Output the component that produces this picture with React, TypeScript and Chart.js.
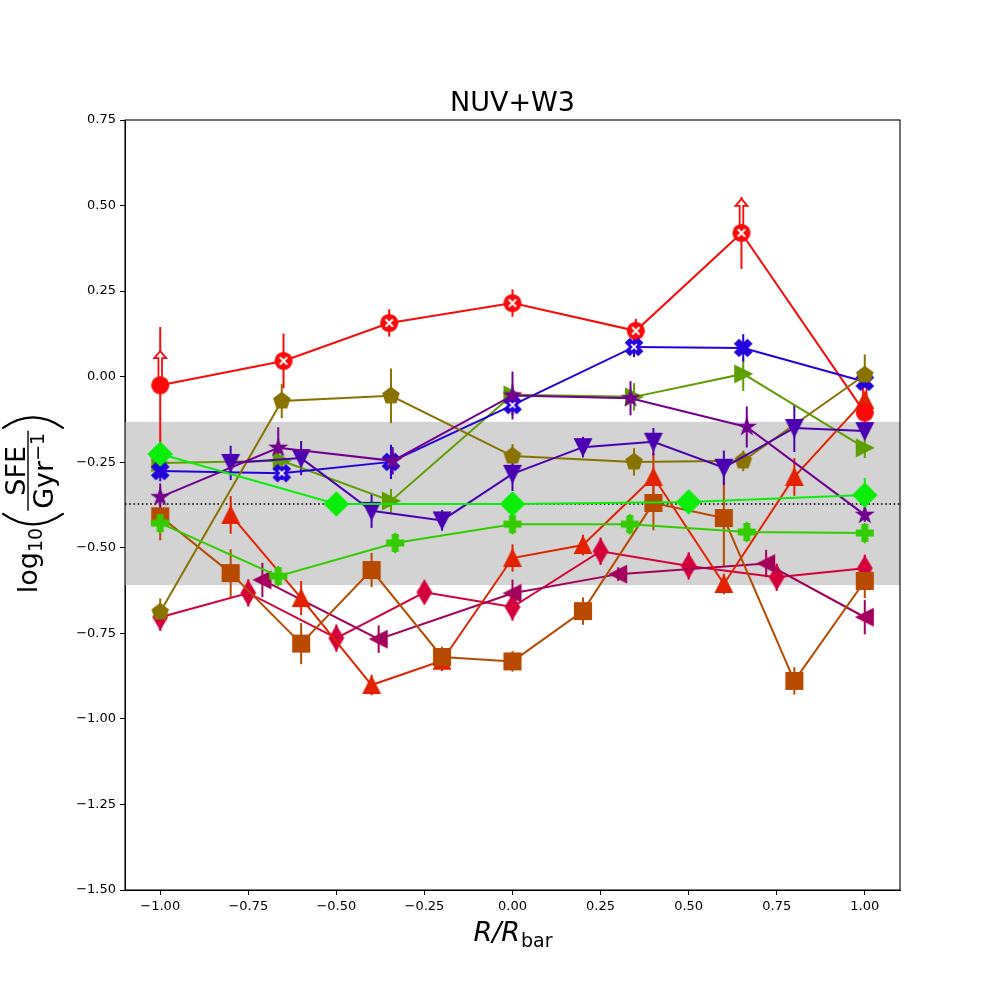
import React, { useEffect, useRef } from 'react';
import Chart from 'chart.js/auto';

// axis ticks
const xTicks = [-1, -0.75, -0.5, -0.25, 0, 0.25, 0.5, 0.75, 1];
const yTicks = [-1.5, -1.25, -1, -0.75, -0.5, -0.25, 0, 0.25, 0.5, 0.75];

// shaded band and dotted reference level
const bandLow = -0.609;
const bandHigh = -0.132;
const refLevel = -0.372;

// red circles (lower limits marked with arrows)
const redX = [-1.0, -0.65, -0.35, 0.0, 0.35, 0.65, 1.0];
const redY = [-0.025, 0.046, 0.157, 0.215, 0.134, 0.42, -0.105];
const redErr = [0.17, 0.08, 0.04, 0.04, 0.035, 0.105, 0.04];
const redCross = [false, true, true, true, true, true, false];
const redLowerLim = [true, false, false, false, false, true, true];

// blue X
const blueX = [-1.0, -0.655, -0.345, 0.0, 0.345, 0.655, 1.0];
const blueY = [-0.276, -0.282, -0.249, -0.083, 0.087, 0.084, -0.015];
const blueErr = [0.03, 0.02, 0.05, 0.03, 0.03, 0.04, 0.02];
const blueHollow = [false, true, true, true, true, false, false];

// olive pentagons
const oliveX = [-1.0, -0.655, -0.345, 0.0, 0.345, 0.655, 1.0];
const oliveY = [-0.688, -0.071, -0.056, -0.232, -0.249, -0.246, 0.005];
const oliveErr = [0.04, 0.05, 0.08, 0.035, 0.04, 0.03, 0.06];

// yellow-green right triangles
const ygX = [-1.0, -0.655, -0.345, 0.0, 0.345, 0.655, 1.0];
const ygY = [-0.252, -0.246, -0.363, -0.053, -0.059, 0.008, -0.208];
const ygErr = [0.03, 0.02, 0.035, 0.03, 0.04, 0.05, 0.03];

// purple stars
const purpleX = [-1.0, -0.665, -0.34, 0.0, 0.335, 0.665, 1.0];
const purpleY = [-0.352, -0.208, -0.246, -0.055, -0.063, -0.147, -0.404];
const purpleErr = [0.04, 0.06, 0.04, 0.07, 0.05, 0.06, 0.02];

// indigo down triangles
const indigoX = [-0.8, -0.6, -0.4, -0.2, 0.0, 0.2, 0.4, 0.6, 0.8, 1.0];
const indigoY = [-0.252, -0.238, -0.392, -0.42, -0.284, -0.206, -0.19, -0.266, -0.15, -0.159];
const indigoErr = [0.05, 0.05, 0.05, 0.03, 0.05, 0.03, 0.04, 0.05, 0.07, 0.02];

// bright green diamonds
const limeX = [-1.0, -0.5, 0.0, 0.5, 1.0];
const limeY = [-0.226, -0.372, -0.372, -0.366, -0.346];
const limeErr = [0.03, 0.03, 0.03, 0.03, 0.05];

// green plus
const greenX = [-1.0, -0.665, -0.333, 0.0, 0.333, 0.665, 1.0];
const greenY = [-0.428, -0.583, -0.486, -0.431, -0.431, -0.454, -0.457];
const greenErr = [0.03, 0.03, 0.03, 0.03, 0.03, 0.03, 0.03];

// brown squares
const brownX = [-1.0, -0.8, -0.6, -0.4, -0.2, 0.0, 0.2, 0.4, 0.6, 0.8, 1.0];
const brownY = [-0.408, -0.574, -0.78, -0.565, -0.819, -0.832, -0.685, -0.369, -0.413, -0.889, -0.597];
const brownErr = [0.07, 0.07, 0.06, 0.05, 0.03, 0.03, 0.04, 0.08, 0.14, 0.04, 0.05];

// orange-red up triangles
const orangeX = [-0.8, -0.6, -0.4, -0.2, 0.0, 0.2, 0.4, 0.6, 0.8, 1.0];
const orangeY = [-0.404, -0.647, -0.901, -0.83, -0.53, -0.492, -0.293, -0.606, -0.293, -0.068];
const orangeErr = [0.055, 0.05, 0.03, 0.03, 0.04, 0.03, 0.07, 0.03, 0.055, 0.05];

// crimson thin diamonds
const crimsonX = [-1.0, -0.75, -0.5, -0.25, 0.0, 0.25, 0.5, 0.75, 1.0];
const crimsonY = [-0.703, -0.632, -0.764, -0.63, -0.673, -0.51, -0.553, -0.586, -0.56];
const crimsonErr = [0.04, 0.04, 0.04, 0.03, 0.04, 0.04, 0.04, 0.04, 0.04];

// magenta left triangles
const magentaX = [-0.71, -0.38, 0.0, 0.3, 0.72, 1.0];
const magentaY = [-0.594, -0.767, -0.633, -0.577, -0.546, -0.703];
const magentaErr = [0.05, 0.04, 0.04, 0.02, 0.04, 0.05];

interface Series {
    label: string;
    x: number[];
    y: number[];
    err: number[];
    color: string;
    marker: string;
    inner?: boolean[];
    lowerLim?: boolean[];
}

// drawn in this order (later on top)
const series: Series[] = [
    { label: 'crimson', x: crimsonX, y: crimsonY, err: crimsonErr, color: '#d4003a', marker: 'd' },
    { label: 'magenta', x: magentaX, y: magentaY, err: magentaErr, color: '#a3005c', marker: '<' },
    { label: 'orange', x: orangeX, y: orangeY, err: orangeErr, color: '#e22200', marker: '^' },
    { label: 'red', x: redX, y: redY, err: redErr, color: '#fa0a0a', marker: 'o', inner: redCross, lowerLim: redLowerLim },
    { label: 'brown', x: brownX, y: brownY, err: brownErr, color: '#b84a00', marker: 's' },
    { label: 'yellowgreen', x: ygX, y: ygY, err: ygErr, color: '#5f9e00', marker: '>' },
    { label: 'blue', x: blueX, y: blueY, err: blueErr, color: '#2200dd', marker: 'X', inner: blueHollow },
    { label: 'olive', x: oliveX, y: oliveY, err: oliveErr, color: '#887300', marker: 'p' },
    { label: 'green', x: greenX, y: greenY, err: greenErr, color: '#33cc00', marker: 'P' },
    { label: 'indigo', x: indigoX, y: indigoY, err: indigoErr, color: '#4a00b0', marker: 'v' },
    { label: 'purple', x: purpleX, y: purpleY, err: purpleErr, color: '#72008e', marker: '*' },
    { label: 'lime', x: limeX, y: limeY, err: limeErr, color: '#0aee0a', marker: 'D' },
];

const MS = 16.7; // marker size in px

function markerPath(shape: string): number[][] {
    switch (shape) {
        case 's': return [[-0.5, -0.5], [0.5, -0.5], [0.5, 0.5], [-0.5, 0.5]];
        case 'D': return [[0, -0.707], [0.707, 0], [0, 0.707], [-0.707, 0]];
        case 'd': return [[0, -0.707], [0.424, 0], [0, 0.707], [-0.424, 0]];
        case '^': return [[0, 0.5], [-0.5, -0.5], [0.5, -0.5]];
        case 'v': return [[0, -0.5], [-0.5, 0.5], [0.5, 0.5]];
        case '<': return [[-0.5, 0], [0.5, 0.5], [0.5, -0.5]];
        case '>': return [[0.5, 0], [-0.5, 0.5], [-0.5, -0.5]];
        case 'p': {
            const pts: number[][] = [];
            for (let k = 0; k < 5; k++) {
                const a = Math.PI / 2 + k * 2 * Math.PI / 5;
                pts.push([0.5 * Math.cos(a), 0.5 * Math.sin(a)]);
            }
            return pts;
        }
        case '*': {
            const pts: number[][] = [];
            for (let k = 0; k < 10; k++) {
                const a = Math.PI / 2 + k * Math.PI / 5;
                const r = k % 2 === 0 ? 0.5 : 0.5 * 0.381966;
                pts.push([r * Math.cos(a), r * Math.sin(a)]);
            }
            return pts;
        }
        case 'X': return [[-0.25, -0.5], [0, -0.25], [0.25, -0.5], [0.5, -0.25], [0.25, 0], [0.5, 0.25],
            [0.25, 0.5], [0, 0.25], [-0.25, 0.5], [-0.5, 0.25], [-0.25, 0], [-0.5, -0.25]];
        case 'P': return [[-1, -3], [1, -3], [1, -1], [3, -1], [3, 1], [1, 1], [1, 3], [-1, 3], [-1, 1], [-3, 1],
            [-3, -1], [-1, -1]].map(([a, b]) => [a / 6, b / 6]);
        default: return [];
    }
}

function makeMarker(shape: string, color: string, inner: boolean): HTMLCanvasElement {
    const dim = 30;
    const c = document.createElement('canvas');
    c.width = dim;
    c.height = dim;
    const ctx = c.getContext('2d')!;
    ctx.translate(dim / 2, dim / 2);
    ctx.fillStyle = color;
    ctx.strokeStyle = color;
    ctx.lineWidth = 1.4;
    ctx.beginPath();
    if (shape === 'o') {
        ctx.arc(0, 0, MS / 2, 0, Math.PI * 2);
    } else {
        markerPath(shape).forEach(([px, py], i) => {
            if (i === 0) ctx.moveTo(px * MS, -py * MS);
            else ctx.lineTo(px * MS, -py * MS);
        });
        ctx.closePath();
    }
    ctx.fill();
    ctx.stroke();
    if (inner) {
        const r = shape === 'o' ? 0.22 * MS : 0.17 * MS;
        ctx.strokeStyle = '#ffffff';
        ctx.lineWidth = shape === 'o' ? 2 : 1.6;
        ctx.beginPath();
        ctx.moveTo(-r, -r);
        ctx.lineTo(r, r);
        ctx.moveTo(-r, r);
        ctx.lineTo(r, -r);
        ctx.stroke();
    }
    return c;
}

const fmtTick = (v: number | string) => {
    const n = Number(v);
    return (n < 0 ? '\u2212' : '') + Math.abs(n).toFixed(2);
};

const FONT = '"DejaVu Sans"';

function drawYLabel(ctx: CanvasRenderingContext2D, baseX: number, cy: number) {
    const big = `27px ${FONT}`;
    const small = `19px ${FONT}`;
    ctx.font = big;
    const wLog = ctx.measureText('log').width;
    const wNum = ctx.measureText('SFE').width;
    const wGyr = ctx.measureText('Gyr').width;
    ctx.font = small;
    const w10 = ctx.measureText('10').width;
    const wSup = ctx.measureText('\u22121').width;
    const wDen = wGyr + wSup;
    const wFrac = Math.max(wNum, wDen) + 4;
    const parenW = 11;
    const gap = 3;
    const u0 = wLog + w10 + gap;
    const fs = u0 + parenW + gap;
    const u1 = fs + wFrac + gap;
    const total = u1 + parenW;

    ctx.save();
    ctx.translate(baseX, cy + total / 2);
    ctx.rotate(-Math.PI / 2);
    ctx.fillStyle = '#000';
    ctx.strokeStyle = '#000';
    ctx.textBaseline = 'alphabetic';
    ctx.textAlign = 'left';
    ctx.font = big;
    ctx.fillText('log', 0, 0);
    ctx.font = small;
    ctx.fillText('10', wLog, 5);
    // parentheses
    ctx.lineWidth = 2.2;
    ctx.lineCap = 'round';
    ctx.beginPath();
    ctx.moveTo(u0 + parenW, -34);
    ctx.quadraticCurveTo(u0 - parenW * 0.9, -4, u0 + parenW, 26);
    ctx.stroke();
    ctx.beginPath();
    ctx.moveTo(u1, -34);
    ctx.quadraticCurveTo(u1 + parenW * 1.9, -4, u1, 26);
    ctx.stroke();
    // fraction
    ctx.lineWidth = 1.4;
    ctx.lineCap = 'butt';
    ctx.beginPath();
    ctx.moveTo(fs, -9);
    ctx.lineTo(fs + wFrac, -9);
    ctx.stroke();
    ctx.font = big;
    ctx.fillText('SFE', fs + (wFrac - wNum) / 2, -12);
    const dStart = fs + (wFrac - wDen) / 2;
    ctx.fillText('Gyr', dStart, 16);
    ctx.font = small;
    ctx.fillText('\u22121', dStart + wGyr, 7);
    ctx.restore();
}

function drawXLabel(ctx: CanvasRenderingContext2D, cx: number, baseY: number) {
    ctx.save();
    ctx.fillStyle = '#000';
    ctx.textBaseline = 'alphabetic';
    ctx.textAlign = 'left';
    ctx.font = `italic 27px ${FONT}`;
    const wa = ctx.measureText('R/R').width;
    ctx.font = `19px ${FONT}`;
    const wb = ctx.measureText('bar').width;
    const start = cx - (wa + wb) / 2;
    ctx.font = `italic 27px ${FONT}`;
    ctx.fillText('R/R', start, baseY);
    ctx.font = `19px ${FONT}`;
    ctx.fillText('bar', start + wa + 1, baseY + 6);
    ctx.restore();
}

const decorPlugin = {
    id: 'decor',
    beforeDatasetsDraw(chart: any) {
        const { ctx, chartArea, scales } = chart;
        const xs = scales.x;
        const ys = scales.y;
        ctx.save();
        // shaded band
        const yTop = ys.getPixelForValue(bandHigh);
        const yBot = ys.getPixelForValue(bandLow);
        ctx.fillStyle = '#d3d3d3';
        ctx.fillRect(chartArea.left, yTop, chartArea.right - chartArea.left, yBot - yTop);
        // dotted line
        const yr = ys.getPixelForValue(refLevel);
        ctx.strokeStyle = '#000';
        ctx.lineWidth = 1.6;
        ctx.setLineDash([1.6, 2.6]);
        ctx.beginPath();
        ctx.moveTo(chartArea.left, yr);
        ctx.lineTo(chartArea.right, yr);
        ctx.stroke();
        ctx.setLineDash([]);
        // error bars
        ctx.lineWidth = 2;
        series.forEach((s) => {
            ctx.strokeStyle = s.color;
            s.x.forEach((xv, i) => {
                const px = xs.getPixelForValue(xv);
                ctx.beginPath();
                ctx.moveTo(px, ys.getPixelForValue(s.y[i] - s.err[i]));
                ctx.lineTo(px, ys.getPixelForValue(s.y[i] + s.err[i]));
                ctx.stroke();
            });
        });
        // lower-limit arrows
        series.forEach((s) => {
            if (!s.lowerLim) return;
            s.x.forEach((xv, i) => {
                if (!s.lowerLim![i]) return;
                const px = xs.getPixelForValue(xv);
                const py = ys.getPixelForValue(s.y[i]);
                ctx.beginPath();
                ctx.moveTo(px - 1.8, py - 6);
                ctx.lineTo(px - 1.8, py - 27);
                ctx.lineTo(px - 6, py - 27);
                ctx.lineTo(px, py - 34);
                ctx.lineTo(px + 6, py - 27);
                ctx.lineTo(px + 1.8, py - 27);
                ctx.lineTo(px + 1.8, py - 6);
                ctx.closePath();
                ctx.fillStyle = '#ffffff';
                ctx.fill();
                ctx.strokeStyle = s.color;
                ctx.lineWidth = 1.8;
                ctx.stroke();
            });
        });
        ctx.restore();
    },
    afterDraw(chart: any) {
        const { ctx, chartArea } = chart;
        ctx.save();
        // frame
        ctx.strokeStyle = '#000';
        ctx.lineWidth = 1.1;
        ctx.strokeRect(chartArea.left, chartArea.top, chartArea.right - chartArea.left, chartArea.bottom - chartArea.top);
        // title
        ctx.fillStyle = '#000';
        ctx.font = `27px ${FONT}`;
        ctx.textAlign = 'center';
        ctx.textBaseline = 'alphabetic';
        ctx.fillText('NUV+W3', (chartArea.left + chartArea.right) / 2, 111);
        ctx.restore();
        drawXLabel(ctx, (chartArea.left + chartArea.right) / 2, 941);
        drawYLabel(ctx, 37, (chartArea.top + chartArea.bottom) / 2);
    },
};

const App: React.FC = () => {
    const canvasRef = useRef<HTMLCanvasElement>(null);
    const chartRef = useRef<Chart>();

    useEffect(() => {
        const ctx = canvasRef.current?.getContext('2d');
        if (!ctx) return;
        if (chartRef.current) chartRef.current.destroy();

        const tickFont = { family: 'DejaVu Sans', size: 13 };

        chartRef.current = new Chart(ctx, {
            type: 'scatter',
            data: {
                datasets: series.map((s, i) => ({
                    label: s.label,
                    data: s.x.map((xv, j) => ({ x: xv, y: s.y[j] })),
                    showLine: true,
                    borderColor: s.color,
                    backgroundColor: s.color,
                    borderWidth: 2,
                    tension: 0,
                    pointStyle: s.x.map((_, j) => makeMarker(s.marker, s.color, !!(s.inner && s.inner[j]))),
                    pointRadius: 8,
                    pointHoverRadius: 8,
                    order: series.length - i,
                })),
            },
            options: {
                animation: false,
                responsive: false,
                devicePixelRatio: 1,
                layout: { padding: { top: 120, right: 100, left: 0, bottom: 0 } },
                plugins: {
                    legend: { display: false },
                    tooltip: { enabled: false },
                },
                scales: {
                    x: {
                        type: 'linear',
                        min: -1.1,
                        max: 1.1,
                        afterBuildTicks: (s: any) => { s.ticks = xTicks.map((v) => ({ value: v })); },
                        afterFit: (s: any) => { s.height = 110; },
                        ticks: { autoSkip: false, maxRotation: 0, color: '#000', font: tickFont, padding: 4, callback: fmtTick },
                        grid: { drawOnChartArea: false, color: '#000', tickLength: 5, tickWidth: 1 },
                        border: { color: '#000', width: 1 },
                    },
                    y: {
                        type: 'linear',
                        min: -1.5,
                        max: 0.75,
                        afterBuildTicks: (s: any) => { s.ticks = yTicks.map((v) => ({ value: v })); },
                        afterFit: (s: any) => { s.width = 125; },
                        ticks: { autoSkip: false, color: '#000', font: tickFont, padding: 4, callback: fmtTick },
                        grid: { drawOnChartArea: false, color: '#000', tickLength: 5, tickWidth: 1 },
                        border: { color: '#000', width: 1 },
                    },
                },
            } as any,
            plugins: [decorPlugin],
        });

        return () => {
            if (chartRef.current) {
                chartRef.current.destroy();
                chartRef.current = undefined;
            }
        };
    }, []);

    return (
        <div style={{ position: 'absolute', left: 0, top: 0, width: 1000, height: 1000, background: '#fff' }}>
            <canvas ref={canvasRef} width={1000} height={1000} style={{ display: 'block' }}></canvas>
        </div>
    );
};

export default App;
